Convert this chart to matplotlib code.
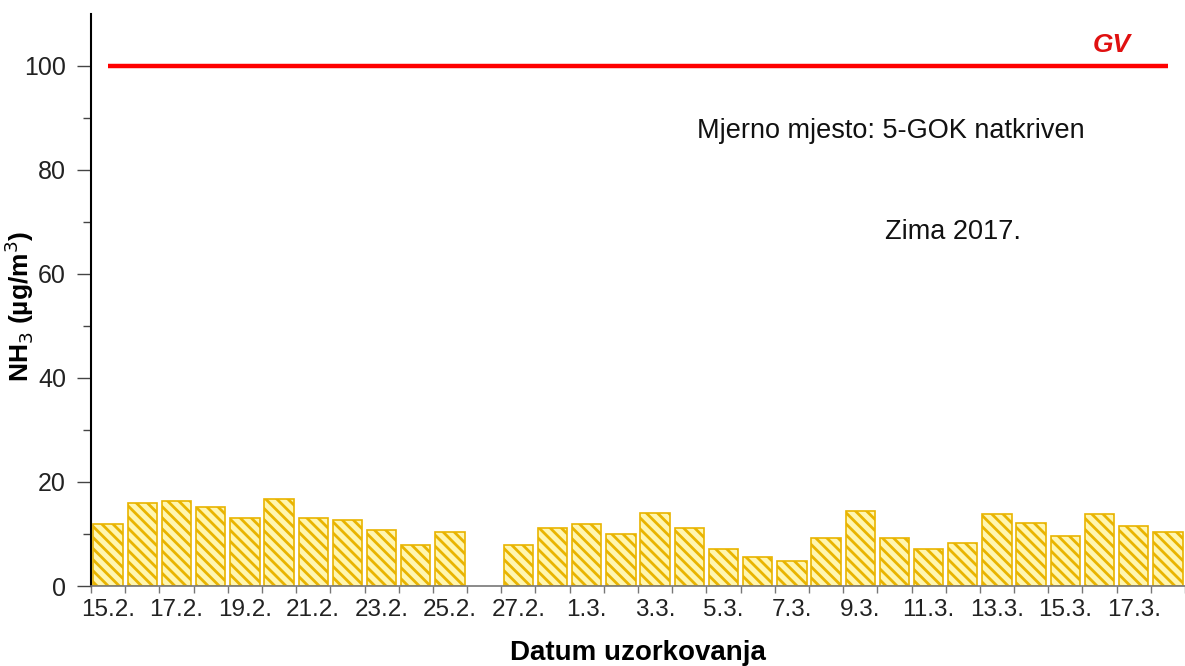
import numpy as np
import matplotlib
matplotlib.use("Agg")
from matplotlib import pyplot as plt

plt.rcParams['font.family'] = ['Liberation Sans', 'DejaVu Sans']
plt.rcParams['hatch.color'] = '#F2B600'
plt.rcParams['hatch.linewidth'] = 2.0

# daily sampling dates, winter 2017
dates = ["15.2.", "16.2.", "17.2.", "18.2.", "19.2.", "20.2.", "21.2.", "22.2.",
         "23.2.", "24.2.", "25.2.", "26.2.", "27.2.", "28.2.",
         "1.3.", "2.3.", "3.3.", "4.3.", "5.3.", "6.3.", "7.3.", "8.3.", "9.3.",
         "10.3.", "11.3.", "12.3.", "13.3.", "14.3.", "15.3.", "16.3.", "17.3.", "18.3."]
nh3 = [11.9, 15.9, 16.3, 15.2, 13.0, 16.7, 13.0, 12.7, 10.7, 7.8, 10.3, np.nan,
       7.8, 11.1, 11.9, 10.0, 14.0, 11.1, 7.1, 5.5, 4.8, 9.2, 14.4,
       9.2, 7.1, 8.2, 13.8, 12.2, 9.6, 13.8, 11.5, 10.3]
gv = 100

fig = plt.figure(figsize=(11.85, 6.66), dpi=100)
ax = fig.add_axes([0.0768, 0.1201, 0.9232, 0.859])

x = np.arange(len(dates))
ax.bar(x, nh3, width=0.86, color='#FFF6B0', edgecolor='#E9B400',
       linewidth=1.2, hatch='\\\\\\')

# limit value line
ax.hlines(gv, 0, len(dates) - 1, color='#FF0000', linewidth=3.2)
ax.text(0.933, 0.946, "GV", transform=ax.transAxes, color='#E01010',
        fontsize=19, fontweight='bold', fontstyle='italic', ha='center', va='center')

ax.text(0.731, 0.795, "Mjerno mjesto: 5-GOK natkriven", transform=ax.transAxes,
        fontsize=19.5, ha='center', va='center', color='#111111')
ax.text(0.788, 0.619, "Zima 2017.", transform=ax.transAxes,
        fontsize=19.5, ha='center', va='center', color='#111111')

ax.set_xlim(-0.5, 31.19)
ax.set_ylim(0, 110)

ax.set_yticks(np.arange(0, 101, 20))
ax.set_yticks(np.arange(10, 101, 20), minor=True)
ax.tick_params(axis='y', which='major', length=10, width=1, labelsize=18,
               labelcolor='#222222', color='#444444', pad=8)
ax.tick_params(axis='y', which='minor', length=6, width=1, color='#444444')

ax.set_xticks(x[::2])
ax.set_xticklabels(dates[::2])
ax.set_xticks(np.arange(-0.5, len(dates), 1), minor=True)
ax.tick_params(axis='x', which='major', length=0, labelsize=17.5,
               labelcolor='#222222', pad=9)
ax.tick_params(axis='x', which='minor', length=5, width=1, color='#777777')

ax.spines['top'].set_visible(False)
ax.spines['right'].set_visible(False)
ax.spines['left'].set_color('black')
ax.spines['left'].set_linewidth(1.5)
ax.spines['bottom'].set_color('#777777')
ax.spines['bottom'].set_linewidth(1.2)

ax.set_xlabel("Datum uzorkovanja", fontsize=20, fontweight='bold', labelpad=14)
ax.set_ylabel("NH$_3$ (µg/m$^3$)", fontsize=19, fontweight='bold')
ax.yaxis.set_label_coords(-0.0505, 0.488)

fig.savefig("out.png", dpi=100)
